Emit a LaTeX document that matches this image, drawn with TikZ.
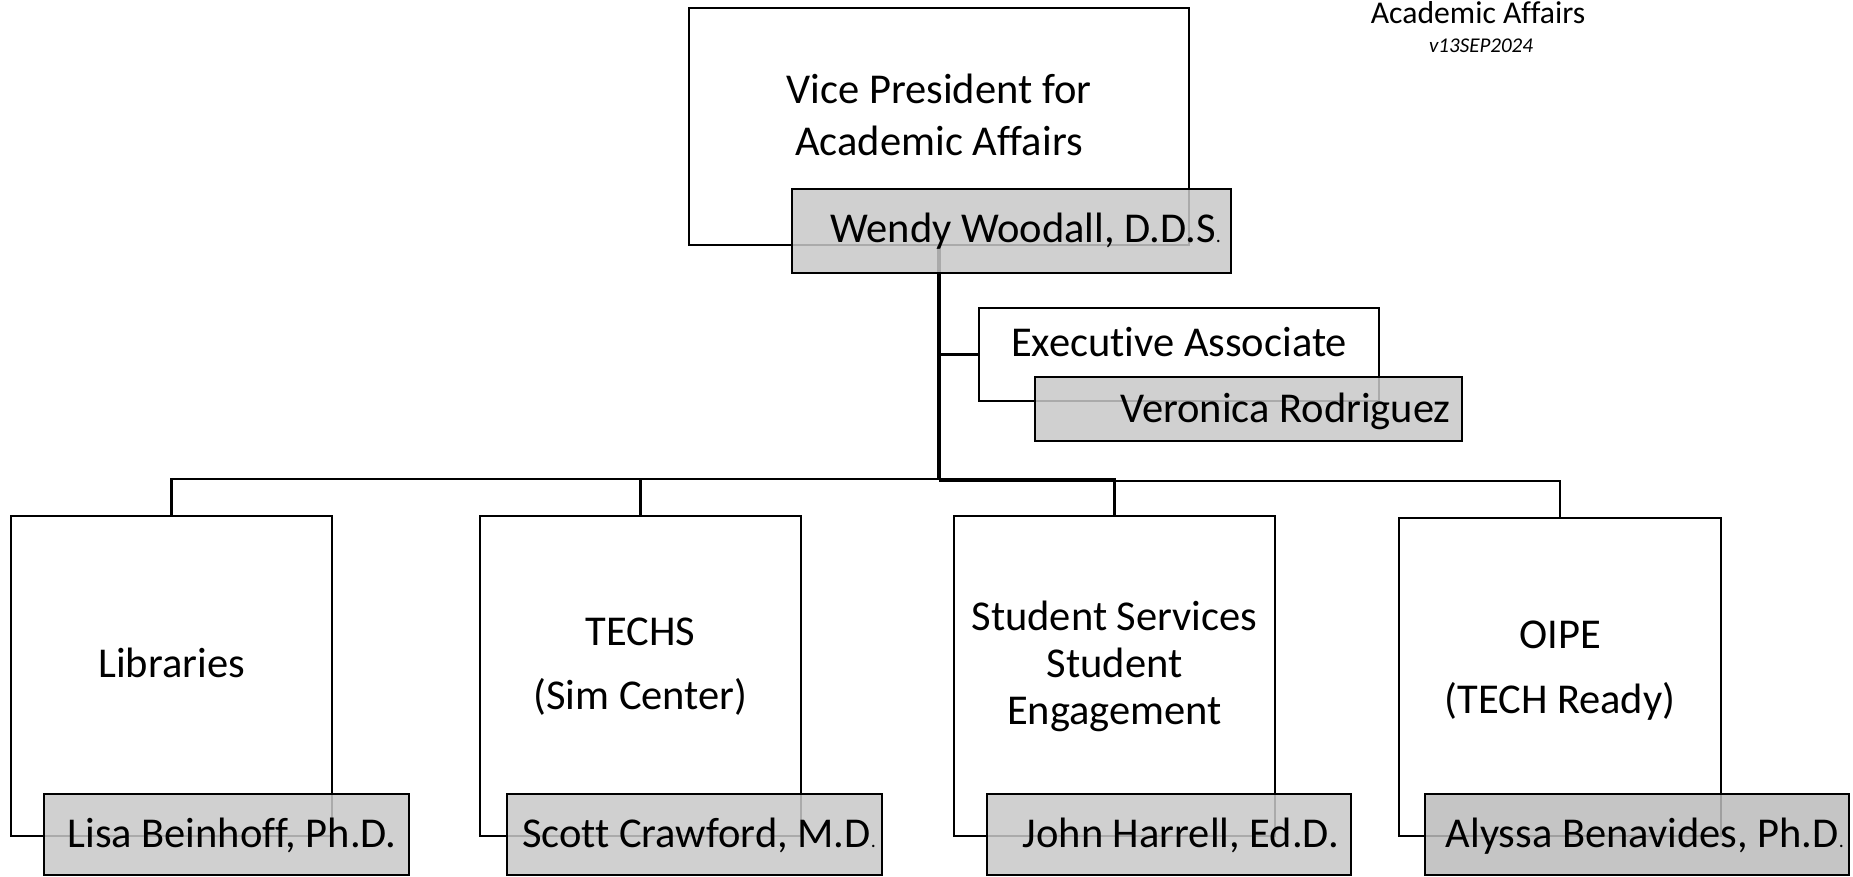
\documentclass[tikz,border=0pt]{standalone}
\usepackage{fontspec}
\setmainfont{Carlito}[RawFeature=-liga]
\usetikzlibrary{calc}
\definecolor{gfill}{RGB}{200,200,200}
\definecolor{gfillB}{RGB}{188,188,188}
\newcommand\tinydot{{\fontsize{20}{24}\selectfont.}}
\begin{document}
\begin{tikzpicture}[x=1pt,y=-1pt,
  wbox/.style={draw=black,line width=2.4pt,fill=white,inner sep=0pt,outer sep=0pt,anchor=north west},
  gbox/.style={draw=black,line width=2.4pt,fill=gfill,fill opacity=0.85,inner sep=0pt,outer sep=0pt,anchor=north west},
  conn/.style={draw=black,line width=2.4pt},
  trunk/.style={draw=black,line width=3.4pt},
  bigtxt/.style={font=\fontsize{42.5}{50}\selectfont,inner sep=0pt,anchor=base},
  nametxt/.style={font=\fontsize{42.5}{50}\selectfont,inner sep=0pt,anchor=base east},
]
\useasboundingbox (0,0) rectangle (1853,877);
\fill[white] (0,0) rectangle (1853,877);

% white boxes
\node[wbox,minimum width=500pt,minimum height=237pt] (wVP) at (689,8) {};
\node[wbox,minimum width=400pt,minimum height=93pt] (wEA) at (979,308) {};
\node[wbox,minimum width=321pt,minimum height=320pt] (wLib) at (11,516) {};
\node[wbox,minimum width=321pt,minimum height=320pt] (wTech) at (480,516) {};
\node[wbox,minimum width=321pt,minimum height=320pt] (wStu) at (954,516) {};
\node[wbox,minimum width=322pt,minimum height=318pt] (wOIPE) at (1399,518) {};

% connectors
\coordinate (busy) at (0,479);
\coordinate (busyB) at (0,481);
\coordinate (busA) at (wVP.south |- busy);
\coordinate (busB) at (wVP.south |- busyB);
\draw[conn] (busA) -| (wLib.north);
\draw[conn] (busA) -| (wTech.north);
\draw[conn] (busA) -| (wStu.north);
\draw[conn] (busB) -| (wOIPE.north);
\draw[conn] (wVP.south |- wEA.west) -- (wEA.west);
\draw[trunk] (wVP.south) -- (busA);

% grey name boxes
\node[gbox,minimum width=439pt,minimum height=84pt] (gVP) at (792,189) {};
\node[gbox,minimum width=427pt,minimum height=64pt] (gEA) at (1035,377) {};
\node[gbox,minimum width=365pt,minimum height=81pt] (gLib) at (44,794) {};
\node[gbox,minimum width=375pt,minimum height=81pt] (gTech) at (507,794) {};
\node[gbox,minimum width=364pt,minimum height=81pt] (gStu) at (987,794) {};
\node[gbox,fill=gfillB,minimum width=424pt,minimum height=81pt] (gOIPE) at (1425,794) {};

% title
\node[font=\fontsize{31.7}{38}\selectfont,inner sep=0pt,anchor=base] (title) at (1478,24) {Academic Affairs};
\node[font=\fontsize{21}{25}\selectfont\itshape,inner sep=0pt,anchor=base] (version) at (1481,53) {v13SEP2024};

% box texts
\node[bigtxt] (tVP1) at (939,104) {Vice President for};
\node[bigtxt] (tVP2) at (939,156) {Academic Affairs};
\node[nametxt] (nVP) at (1221,243) {Wendy Woodall, D.D.S\tinydot};

\node[bigtxt] (tEA) at (1179,356) {Executive Associate};
\node[nametxt] (nEA) at (1451,422) {Veronica Rodriguez};

\node[bigtxt] (tLib) at (171.5,677) {Libraries};
\node[nametxt] (nLib) at (397,847) {Lisa Beinhoff, Ph.D.};

\node[bigtxt] (tTech1) at (640.5,645) {TECHS};
\node[bigtxt] (tTech2) at (640.5,709) {(Sim Center)};
\node[nametxt] (nTech) at (876,847) {Scott Crawford, M.D\tinydot};

\node[bigtxt] (tStu1) at (1114.5,630) {Student Services};
\node[bigtxt] (tStu2) at (1114.5,677) {Student};
\node[bigtxt] (tStu3) at (1114.5,724) {Engagement};
\node[nametxt] (nStu) at (1339,847) {John Harrell, Ed.D.};

\node[bigtxt] (tOIPE1) at (1560,648) {OIPE};
\node[bigtxt] (tOIPE2) at (1560,713) {(TECH Ready)};
\node[nametxt] (nOIPE) at (1844,847) {Alyssa Benavides, Ph.D\tinydot};
\end{tikzpicture}
\end{document}
